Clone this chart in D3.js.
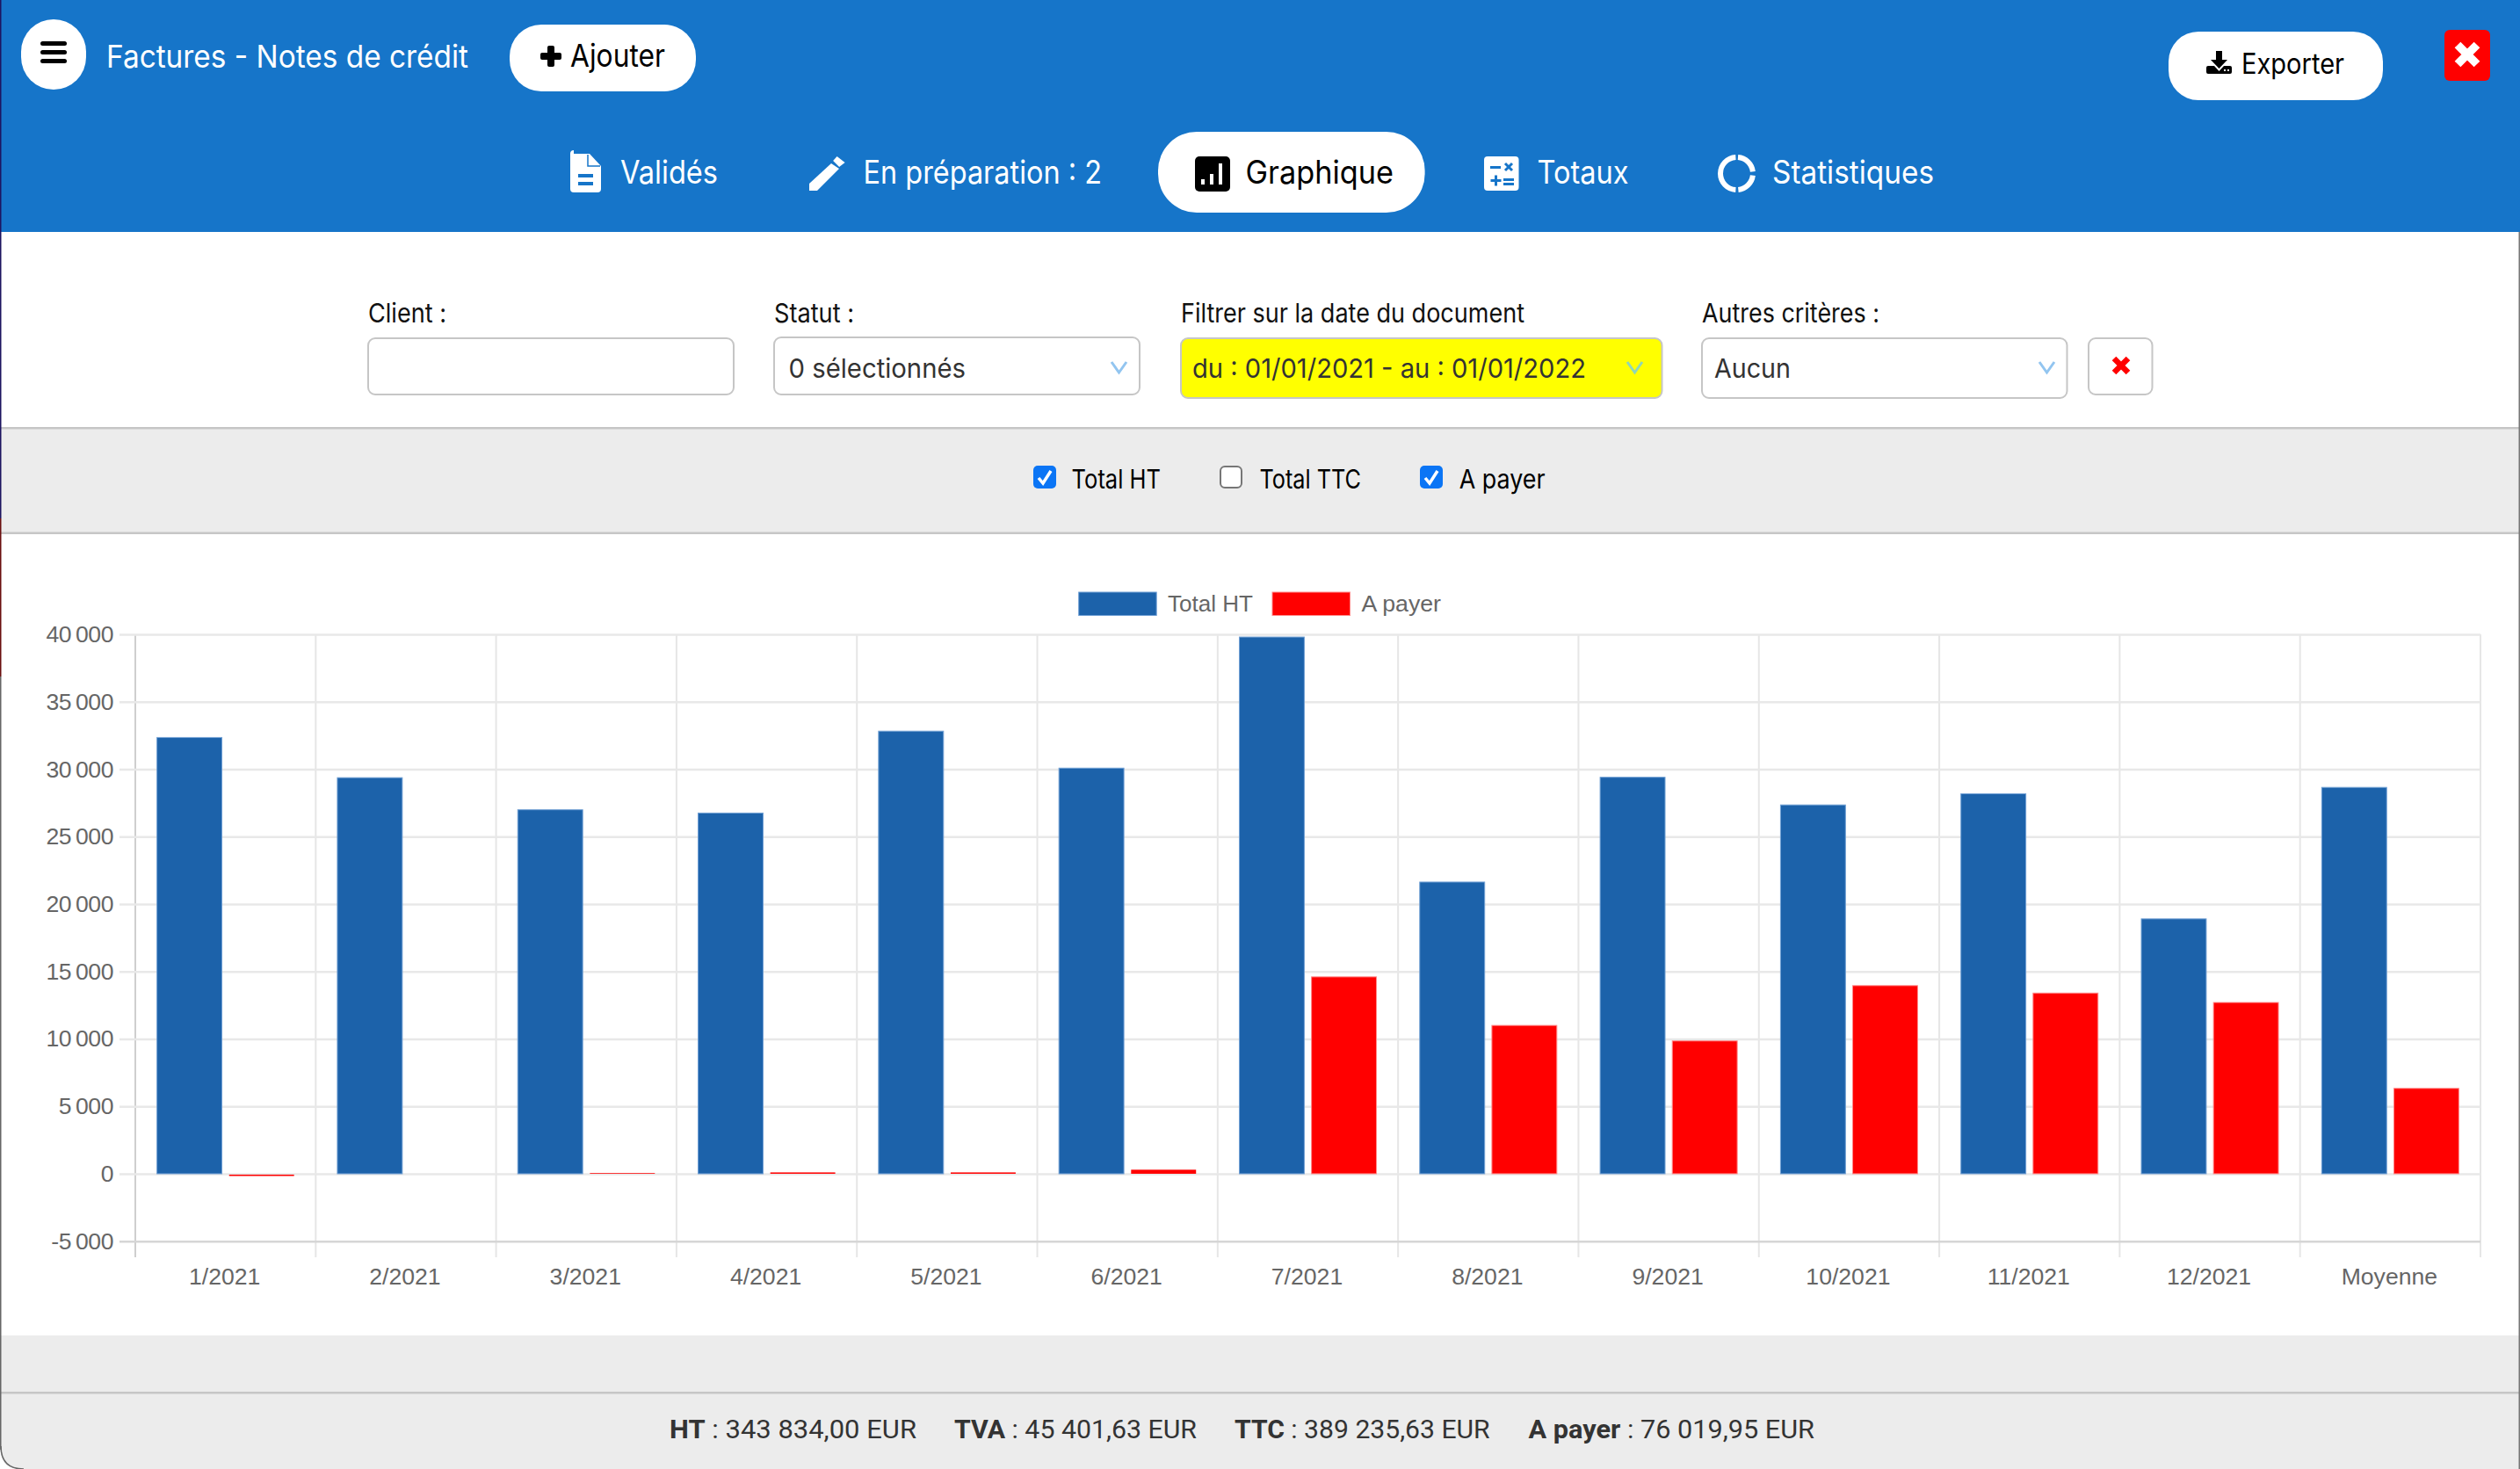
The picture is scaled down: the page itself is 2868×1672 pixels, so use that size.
<!DOCTYPE html>
<html>
<head>
<meta charset="utf-8">
<title>Factures - Graphique</title>
<script src="https://cdn.jsdelivr.net/npm/d3@7"></script>
<style>
  html, body { margin: 0; padding: 0; background: #fff; }
  svg { display: block; }
  .ui { font-family: Inter, "Noto Sans", sans-serif; }
  .chart text { font-family: "Liberation Sans", Arial, sans-serif; font-size: 26.6px; fill: #666; }
  .summary { font-family: Roboto, sans-serif; font-size: 30px; fill: #333; }
</style>
</head>
<body>
<svg id="page" width="2868" height="1672"></svg>
<script>
const categories = ["1/2021", "2/2021", "3/2021", "4/2021", "5/2021", "6/2021", "7/2021", "8/2021", "9/2021", "10/2021", "11/2021", "12/2021", "Moyenne"];
const totalHT = [32350, 29370, 26990, 26750, 32820, 30080, 39800, 21630, 29400, 27350, 28180, 18900, 28650];
const aPayer = [-100, 0, 50, 100, 100, 300, 14600, 11000, 9850, 13950, 13400, 12700, 6330];
const seriesNames = ["Total HT", "A payer"];
const seriesColors = ["#1c62aa", "#ff0000"];
const seriesBorders = ["#6f9fd4", "#ff8a8a"];
const yTicks = [-5000, 0, 5000, 10000, 15000, 20000, 25000, 30000, 35000, 40000];
const summaryLabels = ["HT", "TVA", "TTC", "A payer"];
const summaryValues = ["343 834,00 EUR", "45 401,63 EUR", "389 235,63 EUR", "76 019,95 EUR"];

const svg = d3.select("#page");
const ink = "#000", blue = "#1675c9", rule = "#c6c6c6", panel = "#ececec", chevBlue = "#92c5f0";

// page background bands
function band(y, h, fill) { svg.append("rect").attr("x", 0).attr("y", y).attr("width", 2868).attr("height", h).attr("fill", fill); }
band(0, 264, blue);
band(488, 118, panel);
band(1520, 152, panel);
band(486, 2.5, rule);
band(605.5, 2.5, rule);
band(1584, 2.5, rule);

// text squeezed to the width it has in the screenshot
function label(txt, x0, x1, base, size, fill) {
  return svg.append("text").attr("class", "ui").attr("x", x0).attr("y", base)
    .attr("font-size", size).attr("fill", fill)
    .attr("textLength", x1 - x0).attr("lengthAdjust", "spacingAndGlyphs").text(txt);
}
function box(x0, x1, y0, y1, rx, fill, stroke) {
  return svg.append("rect").attr("x", x0).attr("y", y0).attr("width", x1 - x0).attr("height", y1 - y0)
    .attr("rx", rx).attr("fill", fill).attr("stroke", stroke || "none").attr("stroke-width", stroke ? 2 : 0);
}
function shape(d, fill) { return svg.append("path").attr("d", d).attr("fill", fill); }
function cross(cx, cy, r, w, color) {
  svg.append("path").attr("d", `M${cx - r},${cy - r}L${cx + r},${cy + r}M${cx + r},${cy - r}L${cx - r},${cy + r}`)
    .attr("stroke", color).attr("stroke-width", w).attr("fill", "none");
}
function chevron(x0, x1, y0, y1, color) {
  svg.append("path").attr("d", `M${x0},${y0}L${(x0 + x1) / 2},${y1}L${x1},${y0}`)
    .attr("stroke", color).attr("stroke-width", 3).attr("fill", "none");
}

// top bar
box(24, 98, 22, 102, 37, "#fff");
[47, 57, 67].forEach(y => box(46, 76, y, y + 5, 2.5, ink));
label("Factures - Notes de crédit", 121, 533, 77, 35.5, "#fff");
box(580, 792, 28, 104, 36, "#fff");
box(623, 631, 52, 76, 2, ink);
box(615, 639, 60, 68, 2, ink);
label("Ajouter", 649, 757, 76, 35.5, ink);
box(2468, 2712, 36, 114, 34, "#fff");
shape("M2522,58h7v10h6l-9.5,10l-9.5,-10h6z", ink);
shape("M2513,75h7l5.5,6l5.5,-6h7q2,0 2,2v5q0,2 -2,2h-25q-2,0 -2,-2v-5q0,-2 2,-2z", ink);
box(2531, 2533, 79, 81, 0, "#fff");
box(2535, 2537, 79, 81, 0, "#fff");
label("Exporter", 2551, 2668, 83.5, 32, ink);
box(2782, 2834, 34, 92, 6, "#ff0000");
cross(2808, 62, 11, 9.5, "#fff");

// tabs
shape("M653,175h18l13,14v26q0,4 -4,4h-27q-4,0 -4,-4v-40q0,-4 4,-4z", "#fff");
svg.append("path").attr("d", "M669,176v13h14").attr("fill", "none").attr("stroke", blue).attr("stroke-width", 1.5);
box(658, 675, 198, 202, 0, blue);
box(658, 675, 207, 211, 0, blue);
label("Validés", 706, 817, 208.5, 36.5, "#fff");
shape("M921,217v-8l25,-23l9,6l-25,25z", "#fff");
shape("M952.6,178l9,7l-6.5,5l-7,-7z", "#fff");
label("En préparation : 2", 982.5, 1254, 208.5, 36.5, "#fff");
box(1318, 1621.6, 150, 242, 44, "#fff");
box(1360, 1400, 178, 218, 5, ink);
box(1367, 1371, 204, 210, 0, "#fff");
box(1377, 1381, 198, 210, 0, "#fff");
box(1387, 1391, 186, 210, 0, "#fff");
label("Graphique", 1417.5, 1586, 208.5, 36.5, ink);
box(1689, 1728.5, 178, 217, 4, "#fff");
box(1696, 1708, 189, 192, 0, blue);
cross(1717, 190, 4, 3, blue);
box(1696.5, 1708.5, 204, 207, 0, blue);
box(1701, 1704, 199.5, 211.5, 0, blue);
box(1711, 1723, 203, 206, 0, blue);
box(1711, 1723, 208, 211, 0, blue);
label("Totaux", 1749.5, 1853.6, 208.5, 36.5, "#fff");
const ringArc = d3.arc().innerRadius(15.5).outerRadius(21.5);
[[Math.PI, 2 * Math.PI], [0.02, Math.PI / 2 - 0.06], [Math.PI / 2 + 0.06, Math.PI - 0.04]].forEach(a => {
  svg.append("path").attr("transform", "translate(1976.5,197.5)")
    .attr("d", ringArc({ startAngle: a[0] + 0.06, endAngle: a[1] - 0.06 })).attr("fill", "#fff");
});
label("Statistiques", 2017, 2201, 208.5, 36.5, "#fff");

// filters
label("Client :", 419, 508, 366.5, 30, "#111");
box(419, 835, 385, 449, 8, "#fff", rule);
label("Statut :", 881, 972, 366.5, 30, "#111");
box(881, 1297, 384, 449, 8, "#fff", rule);
label("0 sélectionnés", 897.5, 1099, 429.5, 30, "#333");
chevron(1265, 1282, 412, 424, chevBlue);
label("Filtrer sur la date du document", 1344, 1735, 366.5, 30, "#111");
box(1344, 1891.5, 385, 453, 8, "#ffff00", rule);
label("du : 01/01/2021 - au : 01/01/2022", 1357, 1805, 429.5, 30, "#333");
chevron(1852, 1869, 412, 424, "#8fd6b8");
label("Autres critères :", 1937, 2139, 366.5, 30, "#111");
box(1937, 2352.5, 385, 453, 8, "#fff", rule);
label("Aucun", 1951, 2038, 429.5, 30, "#333");
chevron(2321, 2338, 412, 424, chevBlue);
box(2377, 2449.5, 385, 449, 8, "#fff", rule);
cross(2414, 416, 8, 6.5, "#ff0000");

// series checkboxes
function checkbox(x, on) {
  if (on) {
    box(x, x + 26, 530, 556, 5, "#0b75f5");
    svg.append("path").attr("d", `M${x + 6},${544}l5,6l9,-14`).attr("stroke", "#fff").attr("stroke-width", 3.5).attr("fill", "none");
  } else {
    box(x + 1, x + 25, 531, 555, 5, "#fff", "#767676");
  }
}
checkbox(1176, true);
label("Total HT", 1219.6, 1321, 556, 30, ink);
checkbox(1388, false);
label("Total TTC", 1433.5, 1549, 556, 30, ink);
checkbox(1616, true);
label("A payer", 1660.7, 1758.5, 556, 30, ink);

// chart
const plot = { left: 154, right: 2823, top: 722, bottom: 1412.7, tickEnd: 1431 };
const x = d3.scaleBand().domain(categories).range([plot.left, plot.right]);
// same grouping as the original bars: 80% of the band, 90% of each slot
const xInner = d3.scaleBand().domain(seriesNames)
  .range([x.bandwidth() * 0.1, x.bandwidth() * 0.9]).paddingInner(0.1).paddingOuter(0.05);
const y = d3.scaleLinear().domain([-5000, 40000]).range([plot.bottom, plot.top]);
const frLocale = d3.formatLocale({ decimal: ",", thousands: "\u2009", grouping: [3], currency: ["", " €"] });
const fmt = frLocale.format(",d");

const chart = svg.append("g").attr("class", "chart");

const xLines = categories.map(c => x(c)).concat([plot.right]);
chart.append("g").selectAll("line").data(xLines).join("line")
  .attr("x1", d => d).attr("x2", d => d).attr("y1", plot.top).attr("y2", plot.tickEnd)
  .attr("stroke", (d, i) => i === 0 ? "#cfcfcf" : "#e6e6e6").attr("stroke-width", 2);

const yAxis = d3.axisLeft(y).tickValues(yTicks).tickFormat(d => fmt(d).replace("−", "-"))
  .tickSizeOuter(0).tickSizeInner(18).tickPadding(7);
const yG = chart.append("g").attr("transform", `translate(${plot.left},0)`).call(yAxis);
yG.select(".domain").remove();
yG.selectAll(".tick line").attr("x2", plot.right - plot.left).attr("x1", -18)
  .attr("stroke", d => d === -5000 ? "#d6d6d6" : "#e8e8e8").attr("stroke-width", 2.5);
yG.selectAll("text").attr("letter-spacing", -0.45);

const xAxis = d3.axisBottom(x).tickSize(0).tickPadding(0);
const xG = chart.append("g").attr("transform", `translate(0,${plot.tickEnd})`).call(xAxis);
xG.select(".domain").remove();
xG.selectAll("text").attr("dy", null).attr("y", 30.5).attr("dominant-baseline", "auto").attr("dx", -1);

const rows = categories.map((c, i) => ({ cat: c, values: [totalHT[i], aPayer[i]] }));
const groups = chart.selectAll(".bars").data(rows).join("g").attr("class", "bars")
  .attr("transform", d => `translate(${x(d.cat)},0)`);
groups.selectAll("rect").data(d => d.values.map((v, i) => ({ v: v, i: i }))).join("rect")
  .attr("x", d => xInner(seriesNames[d.i]))
  .attr("width", xInner.bandwidth())
  .attr("y", d => d.v > 0 ? y(d.v) : y(0) + 1)
  .attr("height", d => Math.abs(y(d.v) - y(0)))
  .attr("fill", d => seriesColors[d.i])
  .attr("stroke", d => Math.abs(d.v) > 1000 ? seriesBorders[d.i] : "none")
  .attr("stroke-width", 1);

// legend
const legendX = [1227.7, 1448];
const legendTextX = [[1329, 1426], [1549.5, 1640]];
seriesNames.forEach((s, i) => {
  chart.append("rect").attr("x", legendX[i]).attr("y", 674).attr("width", 88.5).attr("height", 26.5)
    .attr("fill", seriesColors[i]).attr("stroke", seriesBorders[i]).attr("stroke-width", 1);
  chart.append("text").attr("x", legendTextX[i][0]).attr("y", 695.7)
    .attr("textLength", legendTextX[i][1] - legendTextX[i][0]).attr("lengthAdjust", "spacingAndGlyphs").text(s);
});

// summary line
const summaryX = [[762, 1043], [1086, 1362], [1405, 1695.7], [1739.6, 2065]];
summaryLabels.forEach((s, i) => {
  const t = svg.append("text").attr("class", "summary").attr("x", summaryX[i][0]).attr("y", 1637)
    .attr("textLength", summaryX[i][1] - summaryX[i][0]).attr("lengthAdjust", "spacingAndGlyphs");
  t.append("tspan").attr("font-weight", 700).text(s);
  t.append("tspan").text(" : " + summaryValues[i]);
});

// window edge
svg.append("rect").attr("x", 0).attr("y", 0).attr("width", 1.5).attr("height", 590).attr("fill", "#1d1460");
svg.append("rect").attr("x", 0).attr("y", 590).attr("width", 1.5).attr("height", 180).attr("fill", "#6b1010");
svg.append("rect").attr("x", 0).attr("y", 770).attr("width", 1.5).attr("height", 880).attr("fill", "#666");
svg.append("rect").attr("x", 2866.5).attr("y", 264).attr("width", 1.5).attr("height", 1408).attr("fill", "#777");
shape("M0,1646v26h26q-26,0 -26,-26z", "#fff");
svg.append("path").attr("d", "M1,1646q0,26 26,26").attr("fill", "none").attr("stroke", "#666").attr("stroke-width", 1.5);
</script>
</body>
</html>
